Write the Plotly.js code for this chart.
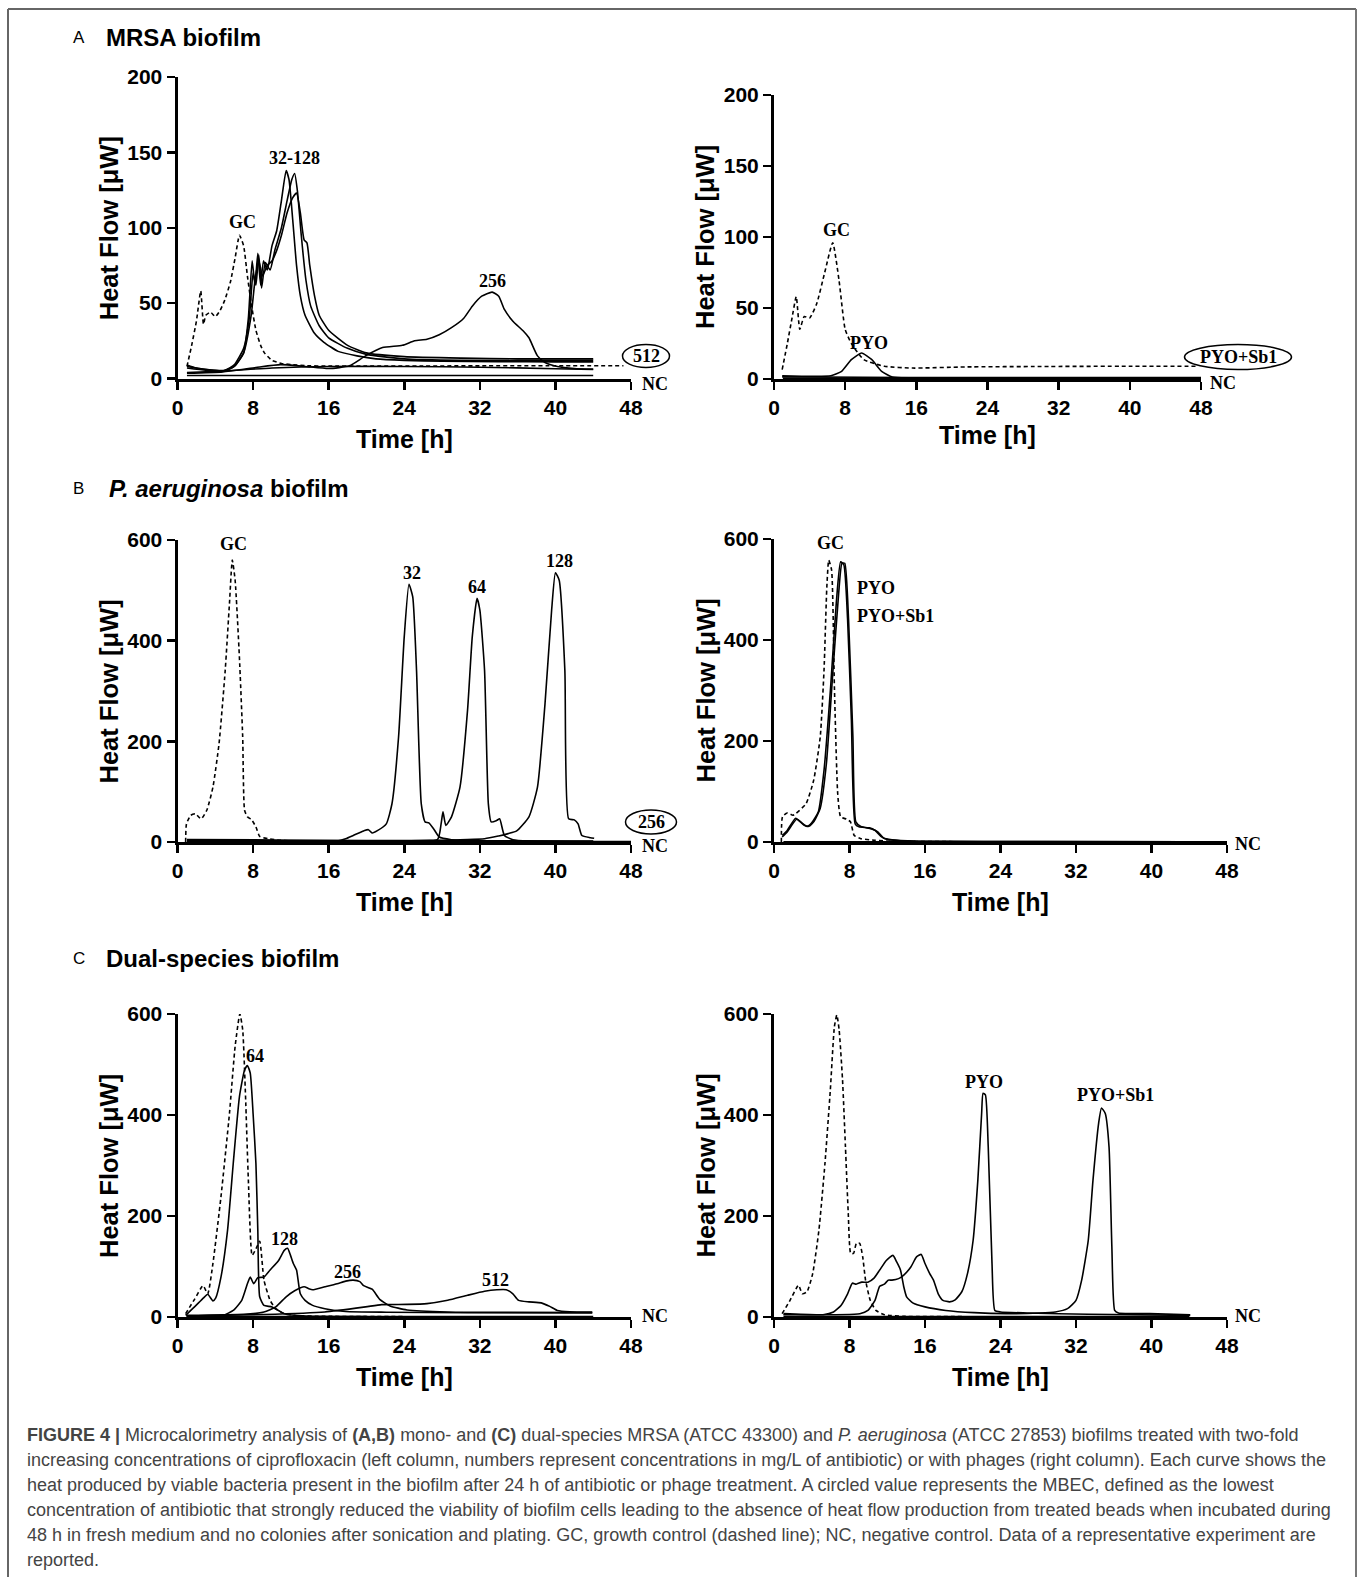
<!DOCTYPE html>
<html>
<head>
<meta charset="utf-8">
<script src="https://cdn.plot.ly/plotly-3.0.1.min.js"></script>
<style>
html,body{margin:0;padding:0;background:#fff;}
#chart{width:1360px;height:1577px;}
</style>
</head>
<body>
<div id="chart"></div>
<script>
// ---------------- DATA ----------------
var xTicks = [0, 8, 16, 24, 32, 40, 48];
var yTicksA = [0, 50, 100, 150, 200];
var yTicksBC = [0, 200, 400, 600];

// Panel A left: MRSA biofilm, ciprofloxacin
var aL_gc_t = [1, 1.5, 2.0, 2.46, 2.75, 3.0, 3.5, 4.0, 4.5, 5.0, 5.6, 6.1, 6.56, 7.0, 7.4, 7.8, 8.3, 8.8, 9.2, 10.0, 11.0, 12.0, 13.5, 16, 20, 26, 32, 40, 47.2];
var aL_gc_y = [8, 22, 38, 58, 36, 42, 44, 41, 45, 52, 64, 80, 95, 88, 68, 50, 32, 22, 17, 12, 10, 9.2, 8.5, 8.2, 8.2, 8.3, 8.4, 8.5, 8.5];
var aL_c1_t = [1, 2, 4.8, 6.0, 7.0, 7.5, 7.9, 8.2, 8.5, 8.8, 9.1, 9.5, 10.0, 10.5, 11.0, 11.5, 11.8, 12.2, 12.6, 13.0, 13.5, 14.5, 15.5, 17, 19, 21, 24, 28, 34, 40, 44];
var aL_c1_y = [9, 7, 5, 8, 17, 40, 78, 62, 83, 62, 78, 72, 88, 98, 118, 138, 132, 105, 75, 55, 42, 30, 24, 18, 15, 13, 12, 11.5, 11.2, 11, 11];
var aL_c2_t = [1, 3, 5, 6, 7, 7.6, 8.0, 8.3, 8.6, 8.9, 9.3, 9.8, 10.3, 11.0, 11.6, 12.1, 12.4, 12.7, 13.1, 13.6, 14.1, 15, 16, 18, 20, 24, 30, 36, 44];
var aL_c2_y = [8, 6, 5.5, 9, 20, 40, 70, 62, 82, 60, 77, 72, 85, 100, 118, 132, 136, 124, 95, 65, 48, 35, 27, 20, 16, 13, 12, 12, 12];
var aL_c3_t = [1, 3, 5, 6, 7, 7.8, 8.2, 8.6, 9.0, 9.5, 10.0, 10.5, 11.0, 11.6, 12.2, 12.6, 13.0, 13.4, 13.7, 14.0, 14.5, 15, 16, 18, 20, 24, 30, 36, 44];
var aL_c3_y = [7, 5.5, 5, 8, 17, 42, 65, 78, 68, 75, 78, 85, 95, 110, 120, 123, 110, 92, 90, 75, 55, 42, 32, 22, 17, 14.5, 13.5, 13, 13];
var aL_256_t = [1, 4.8, 8.3, 10.9, 13.5, 16, 18.2, 19.9, 21.7, 23.8, 25.1, 26.4, 27.7, 29, 30.3, 31.2, 32.2, 33.3, 34.0, 34.6, 35.5, 36.6, 37.2, 38.1, 38.9, 40.2, 42, 44];
var aL_256_y = [3.5, 4.4, 7.3, 9.2, 8, 6.6, 8.4, 15, 20.5, 22, 25, 26, 29, 33.7, 40, 48, 54.6, 57.3, 54.6, 45.8, 38, 31.5, 27, 15, 10.6, 8, 6.6, 6.2];
var aL_512_t = [1, 5, 10, 16, 24, 32, 40, 44];
var aL_512_y = [4, 5, 7, 8, 8, 7.5, 6.5, 6];
var aL_nc_t = [1, 44];
var aL_nc_y = [2, 2];

// Panel A right: MRSA biofilm, phages
var aR_gc_t = [0.92, 1.5, 2.0, 2.5, 2.9, 3.4, 4.0, 4.8, 5.7, 6.6, 7.3, 8.0, 8.7, 10.1, 12.4, 15.6, 21.5, 30, 40, 47.6];
var aR_gc_y = [6.6, 25, 42, 58, 35, 44, 43, 53, 75, 96, 70, 35, 25, 13.6, 9, 7.7, 8.5, 8.8, 9, 9];
var aR_pyo_t = [0.92, 6.4, 7.6, 8.7, 9.85, 11.0, 12.1, 13.3, 15, 30, 48];
var aR_pyo_y = [2.3, 2.3, 5.4, 13.6, 18.3, 13.6, 5.4, 1.4, 0.7, 0.7, 0.7];
var aR_sb1_t = [0.92, 10, 20, 48];
var aR_sb1_y = [1.5, 1.2, 1.0, 1.0];
var aR_nc_t = [1, 48];
var aR_nc_y = [0.5, 0.5];

// Panel B left: P. aeruginosa biofilm, ciprofloxacin
var bL_gc_t = [0.86, 0.95, 1.4, 1.9, 2.5, 3.1, 3.75, 4.4, 5.05, 5.5, 5.8, 6.1, 6.55, 6.9, 7.1, 7.4, 7.85, 8.3, 8.7, 9.6, 10.9, 13.5, 17.8, 30, 44];
var bL_gc_y = [0, 36, 53, 56, 46, 63, 109, 196, 341, 474, 560, 520, 368, 209, 63, 50, 44, 30, 11, 6.6, 3.3, 1.3, 0.7, 0.5, 0.5];
var bL_32_t = [1, 10, 16.9, 17.8, 18.6, 19.7, 20.2, 20.6, 21.2, 22.1, 22.7, 23.4, 24.0, 24.5, 24.9, 25.3, 25.8, 26.2, 26.6, 27.1, 27.7, 29, 30.7, 32.9, 40];
var bL_32_y = [4.6, 3, 2, 6.6, 13, 22, 24.5, 18, 23, 36, 76, 209, 408, 512, 487, 341, 76, 40, 38, 26.5, 10, 4.6, 2, 0.7, 0.5];
var bL_64_t = [1, 15, 27.5, 27.9, 28.1, 28.4, 29.0, 29.9, 30.7, 31.2, 31.7, 32.0, 32.5, 32.9, 33.2, 33.8, 34.1, 34.6, 35.5, 37.2, 44];
var bL_64_y = [2.5, 2, 4.6, 36, 60, 33, 50, 109, 262, 408, 484, 461, 341, 76, 40, 43, 46, 13, 4.6, 2, 1];
var bL_128_t = [1, 20, 32.5, 34, 35, 35.9, 37.2, 38.1, 38.9, 39.6, 40.0, 40.4, 41.0, 41.4, 42.0, 42.4, 42.8, 43.7, 44.1];
var bL_128_y = [1.5, 1, 6.6, 12, 16.6, 22, 50, 109, 275, 461, 535, 520, 341, 46, 44, 36, 13, 8.6, 7.3];
var bL_256_t = [1, 10, 20, 30, 44];
var bL_256_y = [5, 4, 3, 2.5, 2];
var bL_nc_t = [1, 48];
var bL_nc_y = [0.8, 0.8];

// Panel B right: P. aeruginosa biofilm, phages
var bR_gc_t = [0.78, 0.9, 1.4, 2.0, 2.3, 3.4, 4.2, 4.9, 5.3, 5.6, 5.8, 6.1, 6.4, 6.75, 7.06, 7.7, 8.1, 8.5, 9.2, 10.7, 12.5, 20, 44];
var bR_gc_y = [0, 50, 57.5, 53, 56, 76, 122, 208, 340, 506, 558, 539, 307, 96, 50, 45, 40, 13, 6.6, 3.3, 1.3, 0.6, 0.5];
var bR_pyo_t = [0.87, 1.4, 2.3, 2.95, 3.5, 4.0, 4.7, 5.3, 6.0, 6.6, 7.06, 7.4, 7.8, 8.2, 8.6, 9.0, 10.1, 10.7, 11.4, 12.0, 14.2, 24.6, 44];
var bR_pyo_y = [13, 23, 47, 38, 31, 38, 60, 142, 307, 473, 555, 549, 440, 241, 36, 30, 28, 23, 10, 5, 2, 0.7, 0.5];
var bR_sb1_t = [0.87, 1.4, 2.4, 3.2, 3.7, 4.25, 4.9, 5.55, 6.2, 6.85, 7.2, 7.5, 7.9, 8.36, 8.67, 9.2, 10.3, 11.0, 11.6, 12.5, 15, 29, 44];
var bR_sb1_y = [10, 20, 45, 33, 31, 41, 67, 155, 327, 492, 552, 552, 440, 208, 40, 31, 26, 20, 8, 4.6, 2, 0.7, 0.5];
var bR_nc_t = [1, 48];
var bR_nc_y = [0.5, 0.5];

// Panel C left: dual-species biofilm, ciprofloxacin
var cL_gc_t = [0.86, 1.8, 2.7, 3.2, 3.75, 4.6, 5.5, 6.1, 6.6, 6.9, 7.2, 7.5, 7.9, 8.3, 8.7, 9.15, 9.8, 10.4, 11.3, 12.6, 15.6, 24];
var cL_gc_y = [6.6, 35, 62, 46, 106, 238, 403, 536, 600, 569, 437, 271, 122, 135, 150, 73, 33, 16.5, 6.6, 2.6, 1.3, 0.8];
var cL_64_t = [0.86, 1.8, 2.76, 3.2, 3.75, 4.05, 4.6, 5.3, 5.9, 6.56, 7.1, 7.4, 7.7, 8.0, 8.3, 8.5, 8.7, 9.15, 10.0, 11.3, 13.5, 20];
var cL_64_y = [3.3, 20, 38, 45, 32, 38, 79, 172, 304, 437, 489, 498, 483, 403, 304, 172, 40, 23, 20, 6.6, 2, 1];
var cL_128_t = [0.95, 4.8, 5.9, 6.8, 7.4, 7.7, 8.07, 8.5, 9.15, 9.8, 10.7, 11.3, 11.65, 11.96, 12.26, 12.6, 13.0, 13.5, 14.3, 15.6, 17.8, 22.1, 30.7, 43.9];
var cL_128_y = [2, 3.3, 13, 33, 66, 79, 66, 78, 79, 93, 112, 132, 136, 122, 106, 93, 46, 33, 23, 16.5, 11, 9.5, 8.5, 8];
var cL_256_t = [0.95, 7, 9.15, 10.4, 11.5, 12.4, 13.4, 13.9, 14.3, 15.6, 16.9, 17.8, 18.6, 19.3, 19.7, 20.6, 21.4, 22.5, 24.3, 28.6, 43.9];
var cL_256_y = [3.3, 5.3, 10, 20, 40, 52, 60, 56, 54, 60, 66, 71, 73, 70, 62, 55, 35, 22, 14, 10, 9];
var cL_512_t = [0.95, 9.15, 15.6, 19.9, 21.6, 24.3, 26.4, 28.6, 30.7, 32.5, 33.8, 34.8, 35.5, 36.1, 37.2, 38.5, 39.4, 40.2, 41.5, 43.9];
var cL_512_y = [2, 5, 10, 20, 24.5, 25, 26.5, 33, 43, 51, 54, 54, 46, 33, 30, 28, 21, 13, 10.5, 10];
var cL_nc_t = [1, 44];
var cL_nc_y = [1, 1];

// Panel C right: dual-species biofilm, phages
var cR_gc_t = [0.86, 1.7, 2.6, 3.0, 3.5, 4.1, 4.76, 5.4, 5.97, 6.4, 6.66, 6.9, 7.26, 7.57, 7.87, 8.13, 8.43, 8.73, 9.08, 9.4, 9.7, 10.2, 10.8, 11.7, 13.8, 20];
var cR_gc_y = [6.6, 33, 63, 46, 50, 86, 172, 304, 450, 575, 598, 569, 470, 337, 205, 126, 126, 146, 146, 119, 73, 33, 13, 4.6, 1.3, 0.8];
var cR_pyo_t = [1, 9.1, 9.95, 10.7, 11.2, 11.7, 12.1, 12.5, 13.2, 13.75, 14.5, 15.1, 15.6, 16.0, 16.5, 16.9, 17.4, 17.9, 18.6, 19.2, 19.9, 20.5, 21.1, 21.6, 22.0, 22.15, 22.4, 22.7, 23.1, 23.4, 24.0, 26.8, 33.3, 44.1];
var cR_pyo_y = [4.6, 6.6, 13, 33, 61, 65, 73, 73, 76, 83, 99, 119, 124, 106, 86, 73, 46, 33, 30, 34, 50, 86, 152, 271, 403, 443, 440, 337, 106, 13, 10, 8, 5.3, 3.3];
var cR_sb1_t = [1, 5.2, 6.3, 7.1, 7.8, 8.3, 8.7, 9.3, 9.95, 10.6, 11.2, 11.9, 12.6, 13.0, 13.4, 13.75, 14.05, 14.7, 16, 18.2, 21.2, 24.6, 28.1, 29.8, 31.1, 32.0, 32.6, 33.3, 33.8, 34.4, 34.7, 35.1, 35.5, 35.8, 36.1, 36.5, 39.8, 44.1];
var cR_sb1_y = [6.6, 4.6, 10, 23, 46, 67, 65, 69, 69, 77, 93, 112, 122, 109, 93, 60, 40, 28, 20, 13, 8.6, 6.6, 8, 10, 16.5, 33, 73, 152, 271, 384, 414, 403, 337, 139, 13, 8, 6.6, 4.6];
var cR_nc_t = [1, 44];
var cR_nc_y = [1, 1];

// ---------------- LAYOUT HELPERS ----------------
var W = 1360, H = 1577;
function px(x) { return x / W; }
function py(y) { return 1 - y / H; }

// subplot pixel boxes [left, right, top, bottom]
var boxes = {
  1: [177.5, 631, 77, 378.5],
  2: [774, 1201, 95, 379],
  3: [177.5, 631, 540, 842],
  4: [774, 1227, 539, 842],
  5: [177.5, 631, 1014, 1317],
  6: [774, 1227, 1014, 1317]
};

var tickFont = {family: 'Liberation Sans, Arial, sans-serif', size: 21, color: '#000', weight: 'bold'};

var layout = {
  width: W, height: H,
  margin: {l: 0, r: 0, t: 0, b: 0},
  paper_bgcolor: '#fff', plot_bgcolor: 'rgba(0,0,0,0)',
  showlegend: false,
  annotations: [],
  shapes: []
};

[1, 2, 3, 4, 5, 6].forEach(function (i) {
  var b = boxes[i];
  var xs = i === 1 ? '' : String(i);
  var yTicks = i <= 2 ? yTicksA : yTicksBC;
  var yMax = i <= 2 ? 200 : 600;
  layout['xaxis' + xs] = {
    domain: [px(b[0]), px(b[1])], anchor: 'y' + xs, range: [0, 48],
    tickmode: 'array', tickvals: xTicks, ticktext: xTicks.map(String),
    showline: true, linewidth: 3, linecolor: '#000', mirror: false,
    ticks: 'outside', ticklen: 8, tickwidth: 2.5, tickcolor: '#000',
    showgrid: false, zeroline: false, tickfont: tickFont, fixedrange: true
  };
  layout['yaxis' + xs] = {
    domain: [py(b[3]), py(b[2])], anchor: 'x' + xs, range: [0, yMax],
    tickmode: 'array', tickvals: yTicks, ticktext: yTicks.map(String),
    showline: true, linewidth: 3, linecolor: '#000',
    ticks: 'outside', ticklen: 8, tickwidth: 2.5, tickcolor: '#000',
    showgrid: false, zeroline: false, tickfont: tickFont, fixedrange: true
  };
  // axis titles
  var cx = (b[0] + b[1]) / 2, cy = (b[2] + b[3]) / 2;
  var xtY = (i === 2) ? b[3] + 56 : b[3] + 60;
  layout.annotations.push({
    xref: 'paper', yref: 'paper', x: px(cx), y: py(xtY), text: 'Time [h]',
    showarrow: false, xanchor: 'center', yanchor: 'middle',
    font: {family: 'Liberation Sans, Arial, sans-serif', size: 25, color: '#000', weight: 'bold'}
  });
  layout.annotations.push({
    xref: 'paper', yref: 'paper', x: px(b[0] - 69), y: py(cy), text: 'Heat Flow [\u03bcW]',
    showarrow: false, textangle: -90, xanchor: 'center', yanchor: 'middle',
    font: {family: 'Liberation Sans, Arial, sans-serif', size: 25.5, color: '#000', weight: 'bold'}
  });
});

// ---------------- TRACES ----------------
var traces = [];
function addLine(ax, t, y, dashed) {
  traces.push({
    x: t, y: y, type: 'scatter', mode: 'lines',
    xaxis: 'x' + (ax === 1 ? '' : ax), yaxis: 'y' + (ax === 1 ? '' : ax),
    line: {color: '#000', width: 1.6, dash: dashed ? '4px,3px' : 'solid', shape: 'spline', smoothing: 0.5},
    hoverinfo: 'skip', cliponaxis: true
  });
}
addLine(1, aL_nc_t, aL_nc_y);
addLine(1, aL_512_t, aL_512_y);
addLine(1, aL_256_t, aL_256_y);
addLine(1, aL_c1_t, aL_c1_y);
addLine(1, aL_c2_t, aL_c2_y);
addLine(1, aL_c3_t, aL_c3_y);
addLine(1, aL_gc_t, aL_gc_y, true);

addLine(2, aR_nc_t, aR_nc_y);
addLine(2, aR_sb1_t, aR_sb1_y);
addLine(2, aR_pyo_t, aR_pyo_y);
addLine(2, aR_gc_t, aR_gc_y, true);

addLine(3, bL_nc_t, bL_nc_y);
addLine(3, bL_256_t, bL_256_y);
addLine(3, bL_32_t, bL_32_y);
addLine(3, bL_64_t, bL_64_y);
addLine(3, bL_128_t, bL_128_y);
addLine(3, bL_gc_t, bL_gc_y, true);

addLine(4, bR_nc_t, bR_nc_y);
addLine(4, bR_pyo_t, bR_pyo_y);
addLine(4, bR_sb1_t, bR_sb1_y);
addLine(4, bR_gc_t, bR_gc_y, true);

addLine(5, cL_nc_t, cL_nc_y);
addLine(5, cL_512_t, cL_512_y);
addLine(5, cL_256_t, cL_256_y);
addLine(5, cL_128_t, cL_128_y);
addLine(5, cL_64_t, cL_64_y);
addLine(5, cL_gc_t, cL_gc_y, true);

addLine(6, cR_nc_t, cR_nc_y);
addLine(6, cR_sb1_t, cR_sb1_y);
addLine(6, cR_pyo_t, cR_pyo_y);
addLine(6, cR_gc_t, cR_gc_y, true);

// ---------------- LABELS ----------------
var serif = {family: 'Liberation Serif, Times New Roman, serif', size: 18, color: '#000', weight: 'bold'};
function lab(ax, x, y, text, anchor, yshift, xshift) {
  var s = ax === 1 ? '' : String(ax);
  layout.annotations.push({
    xref: 'x' + s, yref: 'y' + s, x: x, y: y, text: text, showarrow: false,
    xanchor: anchor || 'center', yanchor: 'middle', font: serif,
    yshift: yshift || 0, xshift: xshift || 0
  });
}
lab(1, 6.9, 104, 'GC');
lab(1, 12.4, 146, '32-128');
lab(1, 33.3, 65, '256');
lab(1, 48, 0, 'NC', 'left', -5, 9);
lab(2, 7.0, 105, 'GC');
lab(2, 10.7, 25, 'PYO');
lab(2, 48, 0, 'NC', 'left', -4, 7);
lab(3, 5.9, 592, 'GC');
lab(3, 24.8, 534, '32');
lab(3, 31.7, 506, '64');
lab(3, 40.4, 558, '128');
lab(3, 48, 0, 'NC', 'left', -4, 9);
lab(4, 6.0, 592, 'GC');
lab(4, 8.6, 503, 'PYO', 'left');
lab(4, 8.6, 447, 'PYO+Sb1', 'left');
lab(4, 48, 0, 'NC', 'left', -2, 6);
lab(5, 6.9, 622, 'GC');
lab(5, 8.15, 517, '64');
lab(5, 11.35, 154, '128');
lab(5, 18.0, 90, '256');
lab(5, 33.7, 74, '512');
lab(5, 48, 0, 'NC', 'left', 1, 9);
lab(6, 6.9, 622, 'GC');
lab(6, 22.25, 465, 'PYO');
lab(6, 36.2, 439, 'PYO+Sb1');
lab(6, 48, 0, 'NC', 'left', 1, 6);

// circled MBEC values
function oval(cx, cy, w, h, text) {
  layout.shapes.push({type: 'circle', xref: 'paper', yref: 'paper',
    x0: px(cx - w / 2), x1: px(cx + w / 2), y0: py(cy + h / 2), y1: py(cy - h / 2),
    line: {color: '#000', width: 1.5}, fillcolor: 'rgba(255,255,255,1)'});
  layout.annotations.push({xref: 'paper', yref: 'paper', x: px(cx), y: py(cy), text: text,
    showarrow: false, xanchor: 'center', yanchor: 'middle', font: serif});
}
oval(646, 356, 47, 23, '512');
oval(1238, 357, 107, 25, 'PYO+Sb1');
oval(651, 822, 51, 24, '256');

// panel headings
var headFont = {family: 'Liberation Sans, Arial, sans-serif', size: 24, color: '#000', weight: 'bold'};
var letterFont = {family: 'Liberation Sans, Arial, sans-serif', size: 17, color: '#000'};
function heading(y, letter, text, x) {
  layout.annotations.push({xref: 'paper', yref: 'paper', x: px(78.5), y: py(y), text: letter,
    showarrow: false, xanchor: 'center', yanchor: 'middle', font: letterFont});
  layout.annotations.push({xref: 'paper', yref: 'paper', x: px(x), y: py(y), text: text,
    showarrow: false, xanchor: 'left', yanchor: 'middle', font: headFont});
}
heading(38, 'A', 'MRSA biofilm', 104);
heading(488, 'B', '<i>P. aeruginosa</i> biofilm', 107);
heading(958, 'C', 'Dual-species biofilm', 104);

// caption
var captionLines = [
  '<b>FIGURE 4 |</b> Microcalorimetry analysis of <b>(A,B)</b> mono- and <b>(C)</b> dual-species MRSA (ATCC 43300) and <i>P. aeruginosa</i> (ATCC 27853) biofilms treated with two-fold',
  'increasing concentrations of ciprofloxacin (left column, numbers represent concentrations in mg/L of antibiotic) or with phages (right column). Each curve shows the',
  'heat produced by viable bacteria present in the biofilm after 24 h of antibiotic or phage treatment. A circled value represents the MBEC, defined as the lowest',
  'concentration of antibiotic that strongly reduced the viability of biofilm cells leading to the absence of heat flow production from treated beads when incubated during',
  '48 h in fresh medium and no colonies after sonication and plating. GC, growth control (dashed line); NC, negative control. Data of a representative experiment are',
  'reported.'
];
captionLines.forEach(function (t, k) {
  layout.annotations.push({xref: 'paper', yref: 'paper', x: px(25), y: py(1435 + 25 * k), text: t,
    showarrow: false, xanchor: 'left', yanchor: 'middle', align: 'left',
    font: {family: 'Liberation Sans, Arial, sans-serif', size: 18, color: '#444'}});
});

// frame
layout.shapes.push({type: 'line', xref: 'paper', yref: 'paper', x0: px(8), x1: px(1356), y0: py(9), y1: py(9), line: {color: '#666', width: 2}});
layout.shapes.push({type: 'line', xref: 'paper', yref: 'paper', x0: px(8), x1: px(8), y0: py(9), y1: 0, line: {color: '#666', width: 2}});
layout.shapes.push({type: 'line', xref: 'paper', yref: 'paper', x0: px(1356), x1: px(1356), y0: py(9), y1: 0, line: {color: '#777', width: 2}});

Plotly.newPlot('chart', traces, layout, {staticPlot: true, displayModeBar: false});
</script>
</body>
</html>
